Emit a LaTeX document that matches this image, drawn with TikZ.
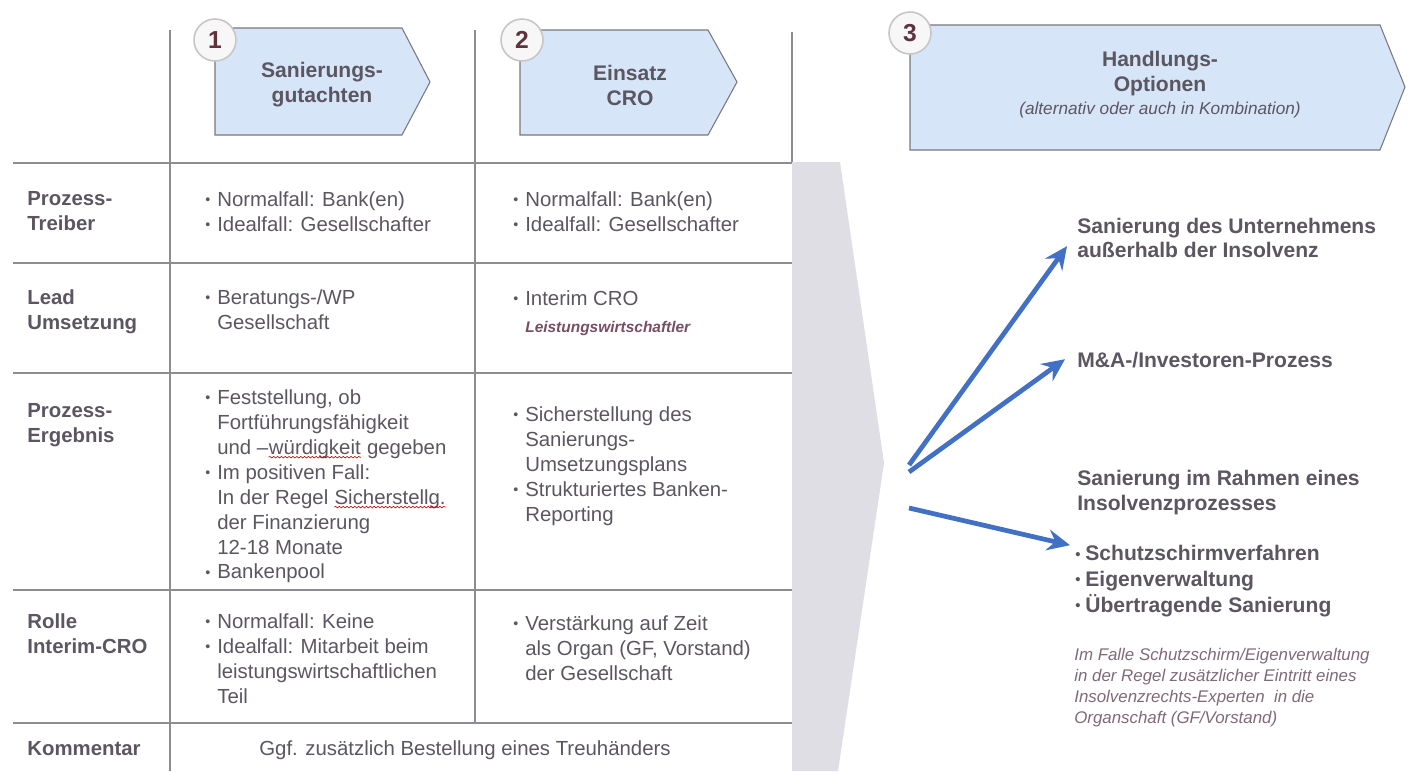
\documentclass[tikz,border=0pt]{standalone}
\usepackage{fontspec}
\setmainfont{Liberation Sans}
\usepackage{tikz}
\usetikzlibrary{arrows.meta, calc, decorations.pathmorphing}

\definecolor{txtgrey}{RGB}{92,86,96}
\definecolor{notegrey}{RGB}{128,106,120}
\definecolor{notered}{RGB}{120,78,96}
\definecolor{numred}{RGB}{95,50,62}
\definecolor{chevblue}{RGB}{214,230,248}
\definecolor{chevedge}{RGB}{120,120,126}
\definecolor{rulegrey}{RGB}{140,140,146}
\definecolor{fangrey}{RGB}{223,222,229}
\definecolor{optblue}{RGB}{66,112,196}

% bullet with hanging indent
\newcommand{\itm}[1][6.8pt]{\makebox[#1][l]{\raisebox{0.15ex}{\scalebox{0.7}{\textbullet}}}}
\newcommand{\ind}{\hspace*{6.8pt}}
% red spell-check squiggle
\newcommand{\spellmark}[1]{\tikz[baseline=(sw.base)]{\node[inner sep=0pt] (sw) {#1};
  \draw[red!80!black, line width=0.35pt, decorate, decoration={snake, amplitude=0.45pt, segment length=2.2pt}]
  ([yshift=-1.7pt]sw.base west) -- ([yshift=-1.7pt]sw.base east);}}

\begin{document}
\begin{tikzpicture}[
    x=0.02cm, y=-0.02cm,
    rule/.style={draw=rulegrey, line width=0.6pt},
    chev/.style={fill=chevblue, draw=chevedge, line width=0.6pt},
    chevtext/.style={align=center, inner sep=0pt, text=txtgrey,
        font=\fontsize{12}{14.2}\selectfont\bfseries},
    numdisc/.style={circle, minimum size=0.84cm, inner sep=0pt, fill=white!94!gray,
        draw=gray!45, line width=0.9pt, text=numred, font=\fontsize{14}{16}\selectfont\bfseries},
    firstbase/.style={anchor=north west, yshift=9pt, inner sep=0pt,
        execute at begin node={\rule{0pt}{9pt}}},
    cell/.style={firstbase, align=left, text=txtgrey,
        font=\fontsize{11.6}{14.2}\selectfont},
    rowlbl/.style={cell, font=\fontsize{11.6}{14.2}\selectfont\bfseries},
    opt/.style={firstbase, align=left, text=txtgrey,
        font=\fontsize{12}{13.6}\selectfont\bfseries},
    note/.style={firstbase, align=left, text=notegrey,
        font=\fontsize{9.6}{11.9}\selectfont\itshape},
    fan/.style={draw=optblue, line width=2.7pt, -{Stealth[length=13pt, width=12pt, inset=4.5pt]}}
]
    \useasboundingbox (0,0) rectangle (1413,771);
    \fill[white] (0,0) rectangle (1413,771);

    % table grid
    \draw[rule] (170,30) -- (170,771);
    \draw[rule] (475,30) -- (475,723);
    \draw[rule] (792,32) -- (792,163);
    \foreach \yy in {163,263,373,590,723}
        \draw[rule] (13,\yy) -- (792,\yy);

    % grey funnel towards the options
    \fill[fangrey] (792,162) -- (840,162) -- (884,463) -- (838,771) -- (792,771) -- cycle;

    % header chevrons
    \draw[chev] (215,28) -- (402,28) -- (430,82) -- (402,135) -- (215,135) -- cycle;
    \draw[chev] (520,30) -- (708,30) -- (737,82) -- (708,135) -- (520,135) -- cycle;
    \draw[chev] (910,25) -- (1380,25) -- (1405,87) -- (1380,150) -- (910,150) -- cycle;

    \node[chevtext] (gutachten) at (322,85) {Sanierungs-\\gutachten};
    \node[chevtext] (cro) at (630,85) {Einsatz\\CRO};
    \node[chevtext] (optionen) at (1160,85) {Handlungs-\\Optionen\\[-1pt]
        {\fontsize{9.8}{12}\selectfont\mdseries\itshape (alternativ oder auch in Kombination)}};

    \node[numdisc] (num1) at (215,40) {1};
    \node[numdisc] (num2) at (522,40) {2};
    \node[numdisc] (num3) at (910,33) {3};

    % row: Prozess-Treiber
    \node[rowlbl] (lblTreiber) at (27,207) {Prozess-\\Treiber};
    \node[cell] (gutTreiber) at (205,207) {\itm Normalfall: Bank(en)\\\itm Idealfall: Gesellschafter};
    \node[cell] (croTreiber) at (513,207) {\itm Normalfall: Bank(en)\\\itm Idealfall: Gesellschafter};

    % row: Lead Umsetzung
    \node[rowlbl] (lblLead) at (27,305) {Lead\\Umsetzung};
    \node[cell] (gutLead) at (205,305) {\itm Beratungs-/WP\\\ind Gesellschaft};
    \node[cell] (croLead) at (513,306) {\itm Interim CRO\\[1pt]
        \ind{\fontsize{8.8}{10}\selectfont\bfseries\itshape\color{notered}Leistungswirtschaftler}};

    % row: Prozess-Ergebnis
    \node[rowlbl] (lblErgebnis) at (27,419) {Prozess-\\Ergebnis};
    \node[cell] (gutErgebnis) at (205,405) {\itm Feststellung, ob\\\ind Fortführungsfähigkeit\\
        \ind und –\spellmark{würdigkeit} gegeben\\\itm Im positiven Fall:\\
        \ind In der Regel \spellmark{Sicherstellg.}\\\ind der Finanzierung\\
        \ind 12-18 Monate\\\itm Bankenpool};
    \node[cell] (croErgebnis) at (513,422) {\itm Sicherstellung des\\\ind Sanierungs-\\
        \ind Umsetzungsplans\\\itm Strukturiertes Banken-\\\ind Reporting};

    % row: Rolle Interim-CRO
    \node[rowlbl] (lblRolle) at (27,629) {Rolle\\Interim-CRO};
    \node[cell] (gutRolle) at (205,629) {\itm Normalfall: Keine\\\itm Idealfall: Mitarbeit beim\\
        \ind leistungswirtschaftlichen\\\ind Teil};
    \node[cell] (croRolle) at (513,631) {\itm Verstärkung auf Zeit\\\ind als Organ (GF, Vorstand)\\
        \ind der Gesellschaft};

    % row: Kommentar
    \node[rowlbl] (lblKommentar) at (27,755) {Kommentar};
    \node[cell, anchor=north] (kommentar) at (465,755) {Ggf. zusätzlich Bestellung eines Treuhänders};

    % options
    \node[opt] (optAussen) at (1077,234) {Sanierung des Unternehmens\\außerhalb der Insolvenz};
    \node[opt] (optInvest) at (1077,367) {M\&A-/Investoren-Prozess};
    \node[opt, font=\fontsize{12}{14.2}\selectfont\bfseries] (optInsolvenz) at (1077,486)
        {Sanierung im Rahmen eines\\Insolvenzprozesses};
    \node[opt, font=\fontsize{12}{14.7}\selectfont\bfseries] (optVerfahren) at (1075,561)
        {\itm[5.7pt]Schutzschirmverfahren\\\itm[5.7pt]Eigenverwaltung\\\itm[5.7pt]Übertragende Sanierung};
    \node[note] (optNote) at (1074,664) {Im Falle Schutzschirm/Eigenverwaltung\\
        in der Regel zusätzlicher Eintritt eines\\Insolvenzrechts-Experten \ in die\\
        Organschaft (GF/Vorstand)};

    % fan of arrows
    \coordinate (hubAussen) at (909,465);
    \coordinate (hubInvest) at (909,472);
    \coordinate (hubInsolvenz) at (909,508);
    \draw[fan] (hubAussen) -- ($(optAussen.north west)+(-10,28)$);
    \draw[fan] (hubInvest) -- ($(optInvest.north west)+(-12,8)$);
    \draw[fan] (hubInsolvenz) -- ($(optVerfahren.north west)+(-5,0)$);
\end{tikzpicture}
\end{document}
